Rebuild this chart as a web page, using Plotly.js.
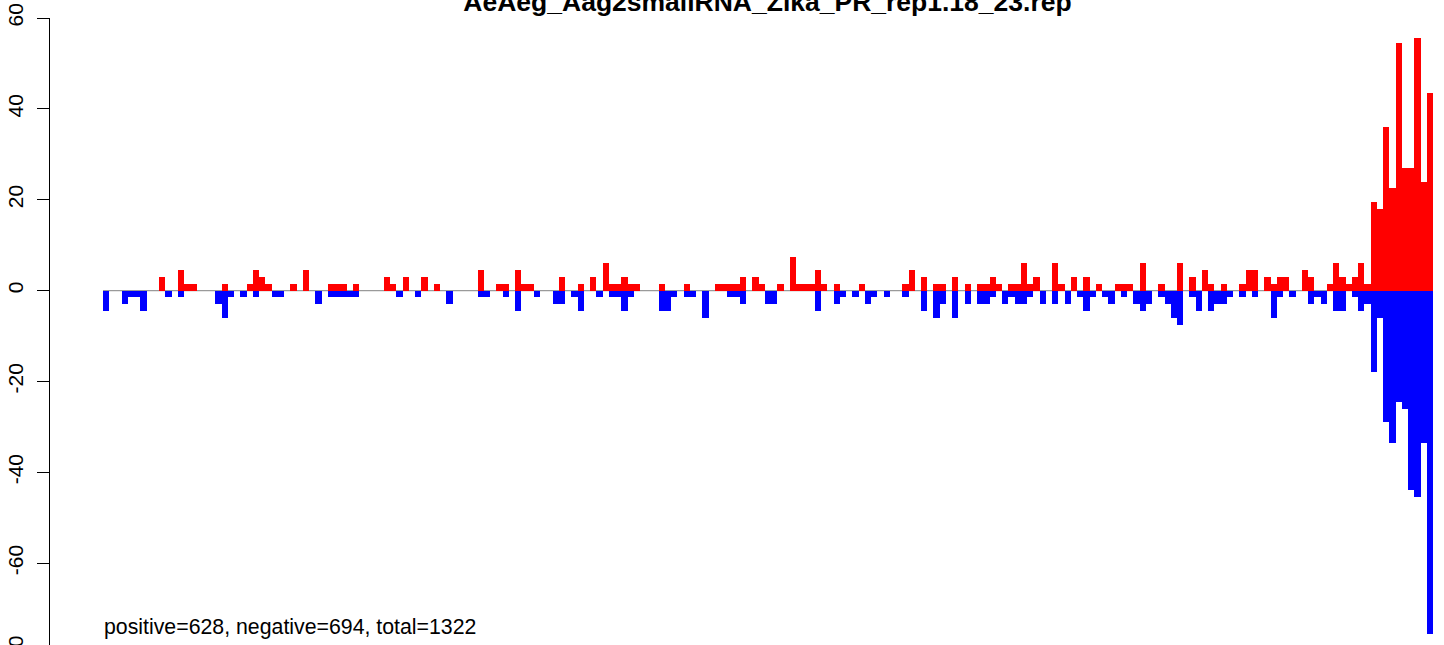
<!DOCTYPE html>
<html><head><meta charset="utf-8">
<script src="https://cdn.plot.ly/plotly-3.0.1.min.js"></script>
<style>
html,body{margin:0;padding:0;width:1444px;height:645px;overflow:hidden;background:#fff}
#wrap{width:1444px;height:645px;overflow:hidden}
#chart{width:1444px;height:680px}
</style>
</head><body><div id="wrap"><div id="chart"></div></div>
<script>
const chartTitle = "AeAeg_Aag2smallRNA_Zika_PR_rep1.18_23.rep";
const summaryText = "positive=628, negative=694, total=1322";

const positive = [
0,0,0,0,0,0,0,0,0,3,
0,0,4.5,1.5,1.5,0,0,0,0,1.5,
0,0,0,1.5,4.5,3,1.5,0,0,0,
1.5,0,4.5,0,0,0,1.5,1.5,1.5,0,
1.5,0,0,0,0,3,1.5,0,3,0,
0,3,0,1.5,0,0,0,0,0,0,
4.5,0,0,1.5,1.5,0,4.5,1.5,1.5,0,
0,0,0,3,0,0,1.5,0,3,0,
6,1.5,1.5,3,1.5,1.5,0,0,0,1.5,
0,0,0,1.5,0,0,0,0,1.5,1.5,
1.5,1.5,3,0,3,1.5,0,0,1.5,0,
7.5,1.5,1.5,1.5,4.5,1.5,0,1.5,0,0,
0,1.5,0,0,0,0,0,0,1.5,4.5,
0,3,0,1.5,1.5,0,3,0,1.5,0,
1.5,1.5,3,1.5,0,1.5,1.5,6,1.5,3,
0,0,6,1.5,0,3,0,3,0,1.5,
0,0,1.5,1.5,1.5,0,6,0,0,1.5,
0,0,6,0,3,0,4.5,1.5,0,1.5,
0,0,1.5,4.5,4.5,0,3,1.5,3,3,
0,0,4.5,3,0,0,1.5,6,3,1.5,
3,6,1.5,19.5,18,36,22.5,54.5,27,27,
55.5,24,43.5
];

const negative = [
-4.5,0,0,-3,-1.5,-1.5,-4.5,0,0,0,
-1.5,0,-1.5,0,0,0,0,0,-3,-6,
-1.5,0,-1.5,0,-1.5,0,0,-1.5,-1.5,0,
0,0,0,0,-3,0,-1.5,-1.5,-1.5,-1.5,
-1.5,0,0,0,0,0,0,-1.5,0,0,
-1.5,0,0,0,0,-3,0,0,0,0,
-1.5,-1.5,0,0,-1.5,0,-4.5,0,0,-1.5,
0,0,-3,-3,0,-1.5,-4.5,0,0,-1.5,
0,-1.5,-1.5,-4.5,-1.5,0,0,0,0,-4.5,
-4.5,-1.5,0,-1.5,-1.5,0,-6,0,0,0,
-1.5,-1.5,-3,0,0,0,-3,-3,0,0,
0,0,0,0,-4.5,0,0,-3,-1.5,0,
-1.5,0,-3,-1.5,0,-1.5,0,0,-1.5,0,
0,-4.5,0,-6,-3,0,-6,0,-3,0,
-3,-3,-1.5,0,-3,-1.5,-3,-3,-1.5,0,
-3,0,-3,0,-3,0,-1.5,-4.5,-1.5,0,
-1.5,-3,0,-1.5,0,-3,-4.5,-3,0,-1.5,
-3,-6,-7.5,0,-1.5,-4.5,0,-4.5,-3,-3,
-1.5,0,-1.5,0,-1.5,0,0,-6,-1.5,0,
-1.5,0,0,-3,-1.5,-3,0,-4.5,-4.5,0,
-1.5,-4.5,-3,-18,-6,-29,-33.5,-24.5,-26,-44,
-45.5,-33.5,-75.5
];

const yTickValues = [60, 40, 20, 0, -20, -40, -60, -80];
const yTickLabels = ["60", "40", "20", "0", "-20", "-40", "-60", "-80"];

const bins = positive.map((_, i) => i);
const font = "Liberation Sans, Arial, Helvetica, sans-serif";

const traces = [
  {type: "bar", x: bins, y: positive, marker: {color: "#FF0000", line: {width: 0}}, hoverinfo: "skip"},
  {type: "bar", x: bins, y: negative, marker: {color: "#0000FF", line: {width: 0}}, hoverinfo: "skip"}
];

const layout = {
  width: 1444, height: 680,
  margin: {l: 50, r: 0, t: 18, b: 26, pad: 0},
  paper_bgcolor: "#ffffff", plot_bgcolor: "#ffffff",
  showlegend: false,
  barmode: "overlay", bargap: 0,
  xaxis: {range: [-8.988, 214.26], visible: false, fixedrange: true},
  yaxis: {
    range: [-80, 60], tickmode: "array", tickvals: yTickValues, ticktext: yTickLabels,
    ticks: "outside", ticklen: 12, tickwidth: 1, tickcolor: "#000",
    showline: true, linecolor: "#000", linewidth: 1,
    showgrid: false, zeroline: false, tickangle: -90,
    ticklabelstandoff: 6,
    tickfont: {family: font, size: 21, color: "#000"}, fixedrange: true
  },
  title: {
    text: chartTitle, xref: "container", x: 767.5 / 1444, xanchor: "center",
    yref: "container", y: 1 - 1.5 / 680, yanchor: "middle",
    font: {family: font, size: 26.5, color: "#000", weight: "bold"}
  },
  shapes: [{type: "line", xref: "x", yref: "y", x0: -0.5, x1: positive.length - 0.5, y0: 0, y1: 0,
            line: {color: "#9a9a9a", width: 1.3}, layer: "below"}],
  annotations: [{
    text: summaryText, xref: "paper", x: (102 - 50) / 1394, xanchor: "left",
    yref: "y", y: -74.0, yanchor: "middle", showarrow: false,
    font: {family: font, size: 21.3, color: "#000"}
  }]
};

Plotly.newPlot("chart", traces, layout, {displayModeBar: false, staticPlot: true});
</script>
</body></html>
